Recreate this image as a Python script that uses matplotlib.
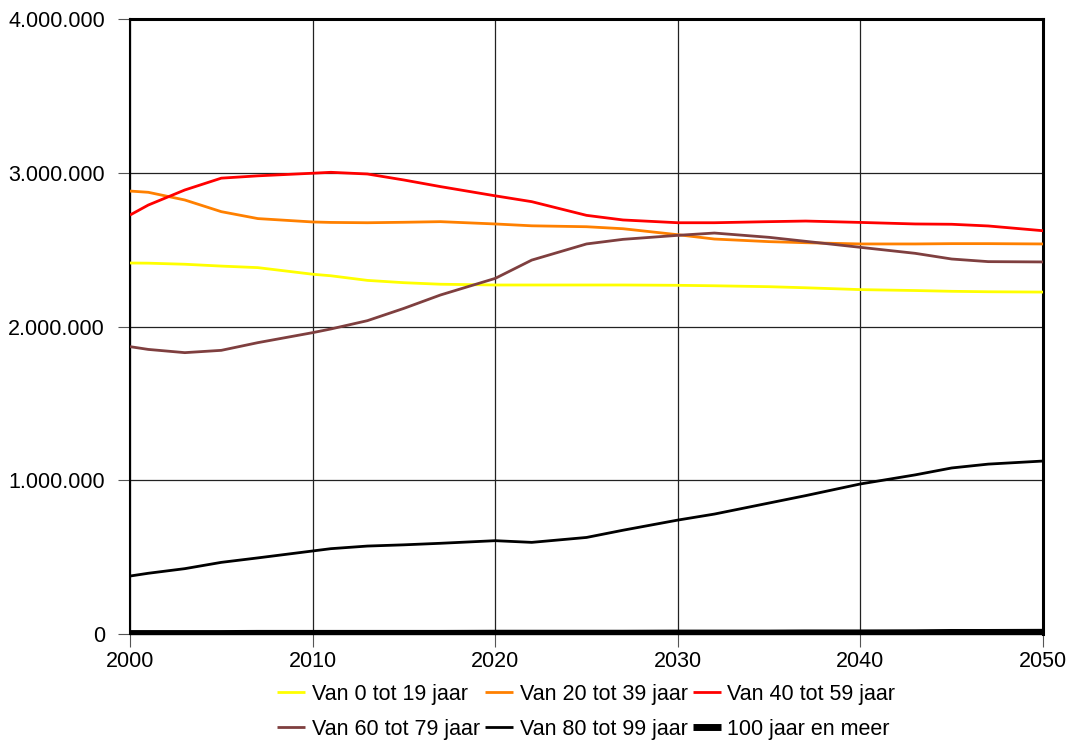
import matplotlib
matplotlib.use('Agg')
import matplotlib.pyplot as plt
from matplotlib.ticker import FuncFormatter

plt.rcParams['font.family'] = ['Liberation Sans', 'DejaVu Sans']

# Population per age group (millions)
years = [2000, 2001, 2003, 2005, 2007, 2010, 2011, 2013, 2015, 2017, 2020,
         2022, 2025, 2027, 2030, 2032, 2035, 2037, 2040, 2043, 2045, 2047, 2050]
age_0_19 = [2.413, 2.412, 2.405, 2.393, 2.383, 2.340, 2.330, 2.300, 2.285, 2.275, 2.270,
            2.270, 2.270, 2.270, 2.268, 2.265, 2.259, 2.252, 2.240, 2.234, 2.229, 2.226, 2.224]
age_20_39 = [2.881, 2.873, 2.823, 2.747, 2.702, 2.680, 2.677, 2.675, 2.678, 2.682, 2.667,
             2.655, 2.649, 2.636, 2.597, 2.569, 2.552, 2.545, 2.537, 2.537, 2.539, 2.539, 2.537]
age_40_59 = [2.725, 2.790, 2.888, 2.965, 2.980, 2.997, 3.003, 2.992, 2.953, 2.910, 2.850,
             2.812, 2.723, 2.693, 2.675, 2.675, 2.682, 2.686, 2.677, 2.667, 2.665, 2.654, 2.623]
age_60_79 = [1.869, 1.851, 1.830, 1.845, 1.895, 1.960, 1.984, 2.038, 2.118, 2.205, 2.313,
             2.432, 2.537, 2.567, 2.593, 2.608, 2.580, 2.554, 2.515, 2.476, 2.439, 2.422, 2.420]
age_80_99 = [0.377, 0.395, 0.425, 0.466, 0.495, 0.540, 0.555, 0.572, 0.580, 0.590, 0.607,
             0.596, 0.628, 0.675, 0.741, 0.780, 0.852, 0.900, 0.976, 1.035, 1.080, 1.105, 1.125]
age_100 = [0.003, 0.003, 0.003, 0.003, 0.004, 0.004, 0.004, 0.004, 0.004, 0.004, 0.005,
           0.005, 0.005, 0.005, 0.006, 0.006, 0.006, 0.007, 0.007, 0.008, 0.010, 0.010, 0.011]

labels = ['Van 0 tot 19 jaar', 'Van 20 tot 39 jaar', 'Van 40 tot 59 jaar',
          'Van 60 tot 79 jaar', 'Van 80 tot 99 jaar', '100 jaar en meer']
series = [age_0_19, age_20_39, age_40_59, age_60_79, age_80_99, age_100]
colors = ['#FFFF00', '#FF8000', '#FF0000', '#7F3F3F', '#000000', '#000000']
widths = [2, 2, 2, 2, 2, 5]

fig = plt.figure(figsize=(10.7, 7.43), dpi=100)
ax = fig.add_axes([0.1215, 0.1467, 0.8533, 0.8277])

lines = []
for vals, lab, col, lw in zip(series, labels, colors, widths):
    ln, = ax.plot(years, [v * 1e6 for v in vals], color=col, lw=lw, label=lab,
                  solid_capstyle='butt', zorder=3)
    lines.append(ln)

ax.set_xlim(2000, 2050)
ax.set_ylim(0, 4e6)
ax.set_xticks(range(2000, 2051, 10))
ax.set_yticks(range(0, 4000001, 1000000))
ax.yaxis.set_major_formatter(FuncFormatter(lambda v, p: f'{v:,.0f}'.replace(',', '.')))
ax.grid(True, color='#222222', lw=0.9)
ax.set_axisbelow(True)

ax.tick_params(axis='y', length=9, width=0.8, color='#555555', pad=9, labelsize=15.5)
ax.tick_params(axis='x', length=9, width=0.8, color='#555555', pad=3, labelsize=15.5)

ax.spines['left'].set_linewidth(1.5)
ax.spines['top'].set_linewidth(2.2)
ax.spines['right'].set_linewidth(2.2)
ax.spines['bottom'].set_linewidth(1.0)

# legend filled row by row
order = [0, 3, 1, 4, 2, 5]
ax.legend([lines[i] for i in order], [labels[i] for i in order],
          ncol=3, frameon=False, fontsize=15.5, handlelength=1.3,
          handletextpad=0.3, columnspacing=0.25, labelspacing=0.65,
          loc='center', bbox_to_anchor=(0.548, 0.042),
          bbox_transform=fig.transFigure, borderpad=0)

fig.savefig('out.png', dpi=100)
